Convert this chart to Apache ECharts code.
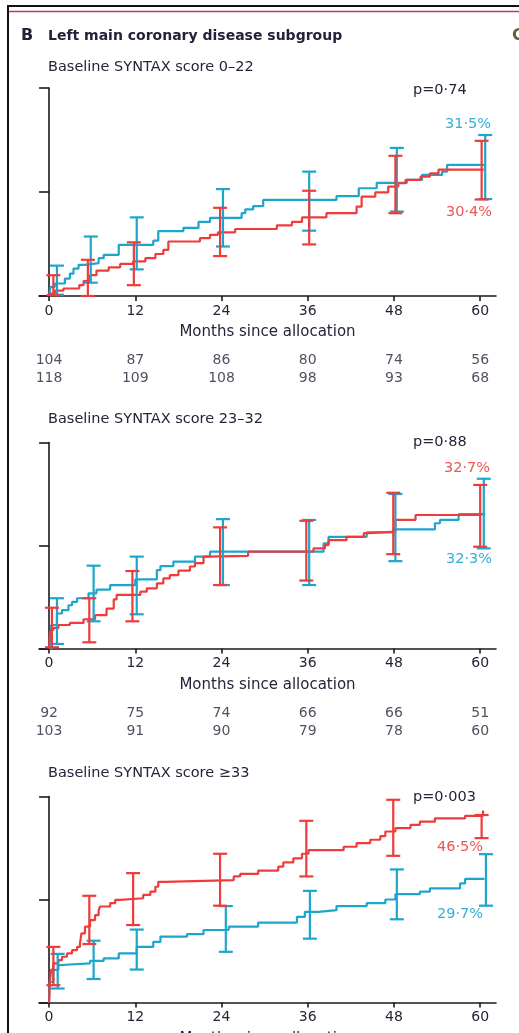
<!DOCTYPE html>
<html>
<head>
<meta charset="utf-8">
<script src="https://cdn.jsdelivr.net/npm/echarts@6/dist/echarts.min.js"></script>
<style>
html,body{margin:0;padding:0;background:#fff;}
#chart{width:519px;height:1033px;}
</style>
</head>
<body>
<div id="chart"></div>
<script>
// ---------- data ----------
const tickMonths = [0, 12, 24, 36, 48, 60];
const tickLabels = ['0', '12', '24', '36', '48', '60'];

const panelTitles = ['Baseline SYNTAX score 0–22', 'Baseline SYNTAX score 23–32', 'Baseline SYNTAX score ≥33'];
const pValues = ['p=0·74', 'p=0·88', 'p=0·003'];
const blueEndLabels = ['31·5%', '32·3%', '29·7%'];
const redEndLabels = ['30·4%', '32·7%', '46·5%'];

// Kaplan-Meier curves: [month, cumulative event %]
const p1Blue = [[0,0],[0.2,2.2],[0.8,3.0],[2.2,4.2],[2.9,5.4],[3.4,6.6],[4.1,7.5],[5.0,7.9],[6.9,9.1],[7.6,9.9],[9.7,12.3],[14.5,13.3],[15.2,15.6],[18.7,16.4],[20.8,17.8],[22.4,18.8],[26.8,19.9],[27.3,20.8],[28.4,21.6],[29.8,23.1],[40.0,24.0],[43.1,25.9],[45.6,27.2],[49.8,27.9],[51.9,29.1],[54.7,29.9],[55.4,31.5],[60.7,31.5]];
const p1Red = [[0,0],[0.1,0.6],[0.8,1.3],[2.0,1.8],[4.2,2.6],[4.8,3.6],[5.7,5.0],[6.6,6.1],[8.3,6.9],[9.9,7.7],[11.7,8.3],[13.4,9.1],[14.8,10.1],[15.9,11.1],[16.6,13.1],[21.0,13.9],[22.4,14.7],[23.5,15.3],[25.9,16.1],[31.7,17.0],[33.8,17.8],[35.2,18.9],[38.6,19.9],[42.8,21.5],[43.5,23.9],[45.4,24.9],[47.2,26.3],[48.6,27.1],[49.6,27.9],[51.7,28.7],[53.0,29.5],[54.2,30.4],[60.5,30.4]];
const p2Blue = [[0,0],[0.3,5.7],[1.1,8.5],[1.8,9.3],[2.7,10.5],[3.2,11.3],[3.9,12.2],[5.5,13.4],[6.6,14.3],[8.5,15.4],[12.0,16.8],[15.0,19.0],[15.5,20.0],[17.3,21.1],[20.3,22.3],[22.4,23.5],[38.2,25.5],[38.9,27.1],[44.2,28.2],[47.9,28.9],[53.7,30.4],[54.4,31.2],[57.0,32.6],[60.7,32.6]];
const p2Red = [[0,0],[0.1,3.5],[0.3,4.5],[0.6,5.0],[1.3,5.7],[2.9,6.2],[4.8,7.1],[6.4,8.1],[8.0,9.7],[9.0,11.9],[9.4,13.0],[12.7,13.8],[13.6,14.6],[15.0,15.8],[15.9,17.0],[16.8,17.8],[18.0,18.9],[19.6,19.9],[20.3,20.7],[21.5,22.3],[22.0,22.5],[27.7,23.5],[36.8,24.3],[38.4,25.1],[38.9,26.3],[41.4,27.1],[43.8,28.0],[44.5,28.4],[48.2,31.2],[51.0,32.4],[60.2,32.4]];
const p3Blue = [[0,0],[0.1,5.0],[0.6,7.9],[1.3,9.1],[1.8,9.5],[5.7,10.1],[7.6,10.7],[9.7,11.9],[12.2,13.5],[14.5,14.7],[15.5,16.0],[19.2,16.6],[21.5,17.6],[25.0,18.4],[29.1,19.4],[34.5,20.8],[35.6,22.0],[37.5,22.4],[40.0,23.4],[44.2,24.1],[46.8,25.0],[48.2,26.3],[51.6,26.9],[53.0,27.7],[57.2,28.9],[57.9,30.0],[60.6,30.0]];
const p3Red = [[0,0],[0.1,5.0],[0.3,8.0],[0.6,9.5],[1.3,10.3],[1.8,11.1],[2.5,11.9],[3.2,12.7],[3.9,13.5],[4.3,14.3],[4.5,16.8],[5.0,18.4],[5.7,20.0],[6.4,21.2],[6.9,22.4],[7.1,23.3],[8.5,24.1],[9.2,24.9],[9.9,25.3],[13.1,26.1],[14.1,26.9],[14.8,28.1],[15.2,29.3],[16.1,29.7],[25.7,30.6],[26.6,31.2],[29.1,32.0],[31.9,33.0],[32.6,34.0],[34.0,35.0],[35.2,36.1],[36.1,37.0],[41.0,37.8],[42.8,38.7],[44.7,39.5],[46.1,40.4],[46.8,41.5],[48.2,42.3],[50.3,43.1],[51.6,43.9],[53.7,44.7],[57.9,45.3],[60.4,46.6]];

// 95% CI error bars: [month, low, high]
const p1BlueErr = [[1.1,0.3,7.3],[5.8,3.2,14.3],[12.2,6.4,18.9],[24.2,11.9,25.7],[36.2,15.7,29.9],[48.4,20.3,35.6],[60.7,23.3,38.7]];
const p1RedErr = [[0.6,0.2,5.0],[5.4,0.0,8.7],[11.8,2.6,12.9],[23.8,9.6,21.2],[36.2,12.4,25.3],[48.2,19.9,33.7],[60.2,23.2,37.3]];
const p2BlueErr = [[1.1,1.1,12.2],[6.2,6.6,20.1],[12.2,8.3,22.3],[24.2,15.4,31.4],[36.2,15.4,31.2],[48.2,21.2,37.5],[60.5,24.3,41.2]];
const p2RedErr = [[0.4,0.3,9.9],[5.6,1.5,12.2],[11.6,6.6,18.8],[23.8,15.4,29.4],[35.8,16.5,31.0],[47.9,22.9,37.8],[60.0,24.7,39.7]];
const p3BlueErr = [[1.2,3.4,11.8],[6.2,5.7,15.0],[12.2,8.0,17.7],[24.6,12.3,23.4],[36.3,15.5,27.1],[48.4,20.2,32.3],[60.8,23.5,36.0]];
const p3RedErr = [[0.6,4.2,13.5],[5.6,14.2,25.9],[11.7,18.8,31.4],[23.8,23.5,36.1],[35.8,30.6,44.1],[47.9,35.6,49.2],[60.2,39.9,45.5]];

// numbers at risk
const p1RiskRow1 = [104, 87, 86, 80, 74, 56];
const p1RiskRow2 = [118, 109, 108, 98, 93, 68];
const p2RiskRow1 = [92, 75, 74, 66, 66, 51];
const p2RiskRow2 = [103, 91, 90, 79, 78, 60];

// ---------- styling / layout ----------
const BLUE = '#1ca6cc';
const RED = '#ef3b3b';
const BLUE_TXT = '#36afd6';
const RED_TXT = '#f05454';
const TXT = '#24243a';
const FONT = 'DejaVu Sans';
const plotTops = [88, 442.5, 796.5];
const plotH = [208, 206, 206];
const riskTops = [351, 704];

const curves = [[p1Blue, p1Red], [p2Blue, p2Red], [p3Blue, p3Red]];
const errs = [[p1BlueErr, p1RedErr], [p2BlueErr, p2RedErr], [p3BlueErr, p3RedErr]];
const risks = [[p1RiskRow1, p1RiskRow2], [p2RiskRow1, p2RiskRow2]];

const grid = [], xAxis = [], yAxis = [], series = [];

function errRender(params, api) {
  const x = api.value(0), lo = api.value(1), hi = api.value(2);
  const a = api.coord([x, lo]), b = api.coord([x, hi]);
  const hw = 7;
  const style = { stroke: api.visual('color'), lineWidth: 2.2 };
  return { type: 'group', children: [
    { type: 'line', shape: { x1: a[0], y1: a[1], x2: b[0], y2: b[1] }, style },
    { type: 'line', shape: { x1: a[0] - hw, y1: a[1], x2: a[0] + hw, y2: a[1] }, style },
    { type: 'line', shape: { x1: b[0] - hw, y1: b[1], x2: b[0] + hw, y2: b[1] }, style }
  ]};
}

plotTops.forEach((top, i) => {
  grid.push({ left: 39, right: 23, top: top, height: plotH[i], outerBoundsMode: 'none', containLabel: false });
  xAxis.push({
    type: 'value', gridIndex: i, min: -1.4, max: 62.2,
    axisLine: { show: true, onZero: false, lineStyle: { color: '#1a1a1a', width: 1.6 } },
    axisTick: { show: true, length: 5, customValues: tickMonths, lineStyle: { color: '#1a1a1a', width: 1.6 } },
    axisLabel: { show: true, customValues: tickMonths, margin: 8, color: TXT, fontFamily: FONT, fontSize: 14,
      formatter: v => tickLabels[tickMonths.indexOf(v)] },
    splitLine: { show: false },
    name: 'Months since allocation', nameLocation: 'middle', nameGap: 29,
    nameTextStyle: { color: TXT, fontFamily: FONT, fontSize: 15 }
  });
  yAxis.push({
    type: 'value', gridIndex: i, min: 0, max: 50, interval: 25,
    axisLine: { show: true, onZero: true, lineStyle: { color: '#1a1a1a', width: 1.6 } },
    axisTick: { show: true, length: 10, lineStyle: { color: '#1a1a1a', width: 1.6 } },
    axisLabel: { show: false }, splitLine: { show: false }
  });
  const [blue, red] = curves[i];
  const [bErr, rErr] = errs[i];
  series.push({ type: 'line', xAxisIndex: i, yAxisIndex: i, data: blue, step: 'end', symbol: 'none',
    lineStyle: { color: BLUE, width: 2.2 }, z: 3 });
  series.push({ type: 'line', xAxisIndex: i, yAxisIndex: i, data: red, step: 'end', symbol: 'none',
    lineStyle: { color: RED, width: 2.2 }, z: 3 });
  series.push({ type: 'custom', xAxisIndex: i, yAxisIndex: i, data: bErr, renderItem: errRender,
    itemStyle: { color: BLUE }, encode: { x: 0, y: [1, 2] }, z: 4 });
  series.push({ type: 'custom', xAxisIndex: i, yAxisIndex: i, data: rErr, renderItem: errRender,
    itemStyle: { color: RED }, encode: { x: 0, y: [1, 2] }, z: 4 });
});

riskTops.forEach((top, j) => {
  const gi = plotTops.length + j;
  grid.push({ left: 39, right: 23, top: top, height: 36, outerBoundsMode: 'none', containLabel: false });
  xAxis.push({ type: 'value', gridIndex: gi, min: -1.4, max: 62.2, show: false });
  yAxis.push({ type: 'category', gridIndex: gi, data: ['row1', 'row2'], inverse: true, show: false });
  risks[j].forEach((row, r) => {
    series.push({
      type: 'scatter', xAxisIndex: gi, yAxisIndex: gi, symbolSize: 1,
      itemStyle: { color: 'rgba(0,0,0,0)' },
      data: tickMonths.map((m, k) => [m, r, row[k]]),
      label: { show: true, position: 'inside', color: TXT, fontFamily: FONT, fontSize: 14,
        formatter: p => String(p.value[2]) }
    });
  });
});

// text annotations and frame
const graphic = [
  { type: 'line', shape: { x1: 8, y1: 6, x2: 519, y2: 6 }, style: { stroke: '#111', lineWidth: 2 } },
  { type: 'line', shape: { x1: 9, y1: 11.5, x2: 519, y2: 11.5 }, style: { stroke: '#c23a5c', lineWidth: 1.6 } },
  { type: 'line', shape: { x1: 8, y1: 5, x2: 8, y2: 1033 }, style: { stroke: '#111', lineWidth: 2 } },
  { type: 'text', x: 21, y: 36, style: { text: 'B', font: 'bold 16px "DejaVu Sans"', fill: '#22223a', verticalAlign: 'middle' } },
  { type: 'text', x: 48, y: 36, style: { text: 'Left main coronary disease subgroup', font: 'bold 14px "DejaVu Sans"', fill: '#22223a', verticalAlign: 'middle' } },
  { type: 'text', x: 512, y: 36, style: { text: 'C', font: 'bold 16px "DejaVu Sans"', fill: '#6a5a40', verticalAlign: 'middle' } }
];
const subY = [67, 419, 773];
const pY = [90, 442, 797];
const blueLabY = [124, 559, 914];
const redLabY = [212, 468, 847];
const blueLabX = [445, 446, 437];
const redLabX = [446, 444, 437];
plotTops.forEach((t, i) => {
  graphic.push({ type: 'text', x: 48, y: subY[i], style: { text: panelTitles[i], font: '14.5px "DejaVu Sans"', fill: TXT, verticalAlign: 'middle' } });
  graphic.push({ type: 'text', x: 413, y: pY[i], style: { text: pValues[i], font: '14.5px "DejaVu Sans"', fill: TXT, verticalAlign: 'middle' } });
  graphic.push({ type: 'text', x: blueLabX[i], y: blueLabY[i], style: { text: blueEndLabels[i], font: '14.5px "DejaVu Sans"', fill: BLUE_TXT, verticalAlign: 'middle' } });
  graphic.push({ type: 'text', x: redLabX[i], y: redLabY[i], style: { text: redEndLabels[i], font: '14.5px "DejaVu Sans"', fill: RED_TXT, verticalAlign: 'middle' } });
});

const chart = echarts.init(document.getElementById('chart'), null, { renderer: 'canvas' });
chart.setOption({
  animation: false,
  backgroundColor: '#fff',
  grid, xAxis, yAxis, series, graphic
});
</script>
</body>
</html>
